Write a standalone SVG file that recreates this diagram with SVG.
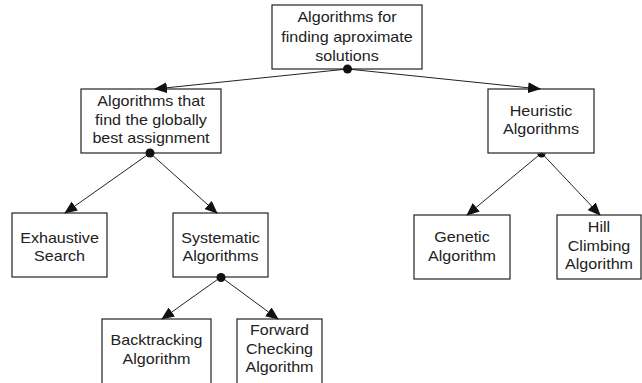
<svg xmlns="http://www.w3.org/2000/svg" width="642" height="383" viewBox="0 0 642 383">
<style>
.box{fill:#fff;stroke:#222;stroke-width:1.2}
.t{font-family:"Liberation Sans",Arial,sans-serif;font-size:14px;fill:#222;text-anchor:middle}
.ln{stroke:#222;stroke-width:1;fill:none;marker-end:url(#ah)}
.dot{fill:#111}
</style>
<defs>
<marker id="ah" markerWidth="13" markerHeight="11" refX="12" refY="5.5" orient="auto" markerUnits="userSpaceOnUse">
<path d="M0,0 L13,5.5 L0,11 Z" fill="#111"/>
</marker>
</defs>
<rect width="642" height="383" fill="#fff"/>
<g id="n-root"><rect class="box" x="272" y="5" width="150" height="64"/>
<g transform="translate(347,0) scale(1.15,1)">
<text class="t" x="0" y="22.5">Algorithms for</text>
<text class="t" x="0" y="42">finding aproximate</text>
<text class="t" x="0" y="61.5">solutions</text></g></g>
<g id="n-global"><rect class="box" x="81" y="89" width="140" height="64"/>
<g transform="translate(151,0) scale(1.15,1)">
<text class="t" x="0" y="106.5">Algorithms that</text>
<text class="t" x="0" y="124.7">find the globally</text>
<text class="t" x="0" y="143">best assignment</text></g></g>
<g id="n-heur"><rect class="box" x="488" y="89" width="106" height="64"/>
<g transform="translate(541,0) scale(1.15,1)">
<text class="t" x="0" y="116">Heuristic</text>
<text class="t" x="0" y="134.5">Algorithms</text></g></g>
<g id="n-exh"><rect class="box" x="12" y="213" width="95" height="64"/>
<g transform="translate(59.5,0) scale(1.15,1)">
<text class="t" x="0" y="243">Exhaustive</text>
<text class="t" x="0" y="261.5">Search</text></g></g>
<g id="n-sys"><rect class="box" x="173" y="213" width="95" height="64"/>
<g transform="translate(220.5,0) scale(1.15,1)">
<text class="t" x="0" y="243">Systematic</text>
<text class="t" x="0" y="261.5">Algorithms</text></g></g>
<g id="n-gen"><rect class="box" x="414" y="215" width="96" height="64"/>
<g transform="translate(462,0) scale(1.15,1)">
<text class="t" x="0" y="242">Genetic</text>
<text class="t" x="0" y="261">Algorithm</text></g></g>
<g id="n-hill"><rect class="box" x="557" y="215" width="84" height="64"/>
<g transform="translate(599,0) scale(1.15,1)">
<text class="t" x="0" y="232">Hill</text>
<text class="t" x="0" y="251">Climbing</text>
<text class="t" x="0" y="269.5">Algorithm</text></g></g>
<g id="n-back"><rect class="box" x="102" y="319" width="109" height="70"/>
<g transform="translate(156.5,0) scale(1.15,1)">
<text class="t" x="0" y="345.5">Backtracking</text>
<text class="t" x="0" y="364">Algorithm</text></g></g>
<g id="n-fwd"><rect class="box" x="237" y="319" width="85" height="70"/>
<g transform="translate(279.5,0) scale(1.15,1)">
<text class="t" x="0" y="335.5">Forward</text>
<text class="t" x="0" y="354">Checking</text>
<text class="t" x="0" y="372.5">Algorithm</text></g></g>
<g id="connectors">
<line class="ln" x1="347.5" y1="69" x2="155" y2="89"/>
<line class="ln" x1="347.5" y1="69" x2="540" y2="89"/>
<line class="ln" x1="150" y1="153" x2="65" y2="213"/>
<line class="ln" x1="150" y1="153" x2="217" y2="213"/>
<line class="ln" x1="541.5" y1="153" x2="467" y2="215"/>
<line class="ln" x1="541.5" y1="153" x2="600" y2="215"/>
<line class="ln" x1="221" y1="277" x2="162" y2="319"/>
<line class="ln" x1="221" y1="277" x2="278" y2="319"/>
<circle class="dot" cx="347.5" cy="69" r="4.5"/>
<circle class="dot" cx="150" cy="153" r="4.5"/>
<circle class="dot" cx="221" cy="277.5" r="4.5"/>
<path class="dot" d="M537.5,153.6 A4,4 0 0 0 545.5,153.6 Z"/>
</g>
</svg>
